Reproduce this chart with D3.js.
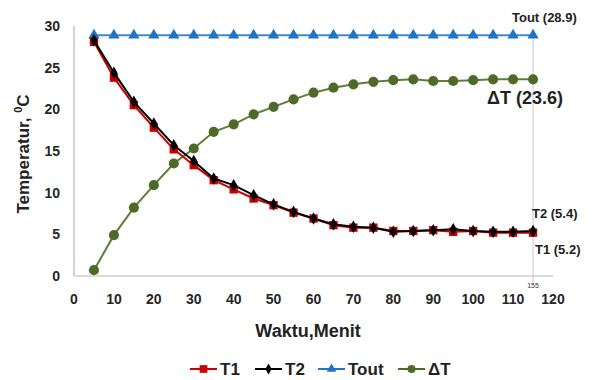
<!DOCTYPE html>
<html>
<head>
<meta charset="utf-8">
<script src="https://cdn.jsdelivr.net/npm/d3@7"></script>
<style>
  body { margin: 0; background: #fff; }
  svg text { font-family: Arial, "Liberation Sans", sans-serif; }
</style>
</head>
<body>
<svg id="chart"></svg>
<script>
// Data
const minutes = [5, 10, 15, 20, 25, 30, 35, 40, 45, 50, 55, 60, 65, 70, 75, 80, 85, 90, 95, 100, 105, 110, 115];
const t1 = [28.1, 23.8, 20.5, 17.8, 15.2, 13.3, 11.5, 10.4, 9.3, 8.5, 7.6, 6.9, 6.1, 5.8, 5.8, 5.4, 5.4, 5.5, 5.3, 5.4, 5.2, 5.2, 5.2];
const t2 = [28.3, 24.4, 20.9, 18.3, 15.7, 13.8, 11.7, 10.9, 9.7, 8.6, 7.7, 6.9, 6.2, 5.9, 5.8, 5.3, 5.4, 5.5, 5.6, 5.4, 5.3, 5.3, 5.4];
const tout = [28.9, 28.9, 28.9, 28.9, 28.9, 28.9, 28.9, 28.9, 28.9, 28.9, 28.9, 28.9, 28.9, 28.9, 28.9, 28.9, 28.9, 28.9, 28.9, 28.9, 28.9, 28.9, 28.9];
const deltaT = [0.7, 4.9, 8.2, 10.9, 13.5, 15.3, 17.3, 18.2, 19.4, 20.3, 21.2, 22.0, 22.6, 23.0, 23.3, 23.5, 23.6, 23.4, 23.4, 23.5, 23.6, 23.6, 23.6];
const xTicks = [0, 10, 20, 30, 40, 50, 60, 70, 80, 90, 100, 110, 120];
const yTicks = [0, 5, 10, 15, 20, 25, 30];

const width = 603;
const height = 380;

const svg = d3.select("#chart")
    .attr("width", width)
    .attr("height", height);

const x = d3.scaleLinear().domain([0, 120]).range([74, 553]);
const y = d3.scaleLinear().domain([0, 30]).range([276, 26]);

// Axes (plain lines, no tick marks)
svg.append("line")
    .attr("x1", x(0)).attr("x2", x(0))
    .attr("y1", y(30)).attr("y2", y(0))
    .attr("stroke", "#b8b8b8").attr("stroke-width", 1.2);
svg.append("line")
    .attr("x1", x(0)).attr("x2", x(120))
    .attr("y1", y(0)).attr("y2", y(0))
    .attr("stroke", "#b8b8b8").attr("stroke-width", 1.2);

// vertical marker line at the last reading
svg.append("line")
    .attr("x1", x(115)).attr("x2", x(115))
    .attr("y1", y(29.6)).attr("y2", y(0) + 8)
    .attr("stroke", "#c8c8c8").attr("stroke-width", 1);

svg.append("text")
    .attr("x", x(115)).attr("y", y(0) + 12)
    .attr("text-anchor", "middle")
    .attr("font-size", 7)
    .attr("fill", "#333")
    .text("155");

// Tick labels
svg.selectAll(".ytick")
    .data(yTicks)
    .enter()
    .append("text")
    .attr("class", "ytick")
    .attr("x", 60)
    .attr("y", d => y(d))
    .attr("dy", "0.35em")
    .attr("text-anchor", "end")
    .attr("font-size", 14)
    .attr("font-weight", "bold")
    .attr("fill", "#262626")
    .text(d => d);

svg.selectAll(".xtick")
    .data(xTicks)
    .enter()
    .append("text")
    .attr("class", "xtick")
    .attr("x", d => x(d))
    .attr("y", 304)
    .attr("text-anchor", "middle")
    .attr("font-size", 14)
    .attr("font-weight", "bold")
    .attr("fill", "#262626")
    .text(d => d);

// Axis titles
svg.append("text")
    .attr("x", 308).attr("y", 337)
    .attr("text-anchor", "middle")
    .attr("font-size", 18)
    .attr("font-weight", "bold")
    .attr("fill", "#222")
    .text("Waktu,Menit");

svg.append("text")
    .attr("transform", "translate(29,154) rotate(-90)")
    .attr("text-anchor", "middle")
    .attr("font-size", 17)
    .attr("font-weight", "bold")
    .attr("fill", "#222")
    .html('Temperatur, <tspan dy="-7" font-size="11">0</tspan><tspan dy="7">C</tspan>');

// Series
const series = [
    { name: "Tout", values: tout, color: "#1f74c6", line: "#3a8ad6", symbol: d3.symbolTriangle, size: 55 },
    { name: "ΔT", values: deltaT, color: "#4e6a29", line: "#5f7d38", symbol: d3.symbolCircle, size: 80 },
    { name: "T1", values: t1, color: "#cc0000", line: "#cc0000", symbol: d3.symbolSquare, size: 70 },
    { name: "T2", values: t2, color: "#000000", line: "#000000", symbol: d3.symbolDiamond, size: 45 }
];

const line = d3.line()
    .x(d => x(d[0]))
    .y(d => y(d[1]));

series.forEach(s => {
    const pts = minutes.map((m, i) => [m, s.values[i]]);
    const g = svg.append("g");
    g.append("path")
        .attr("d", line(pts))
        .attr("fill", "none")
        .attr("stroke", s.line)
        .attr("stroke-width", 2);
    g.selectAll("path.pt")
        .data(pts)
        .enter()
        .append("path")
        .attr("class", "pt")
        .attr("d", d3.symbol().type(s.symbol).size(s.size))
        .attr("transform", d => `translate(${x(d[0])},${y(d[1])})`)
        .attr("fill", s.color);
});

// End labels
const endLabels = [
    { text: "Tout (28.9)", x: 512, y: 22, size: 13 },
    { text: "ΔT (23.6)", x: 487, y: 104, size: 18 },
    { text: "T2 (5.4)", x: 532, y: 218, size: 13 },
    { text: "T1 (5.2)", x: 535, y: 254, size: 13 }
];
svg.selectAll(".endlab")
    .data(endLabels)
    .enter()
    .append("text")
    .attr("class", "endlab")
    .attr("x", d => d.x)
    .attr("y", d => d.y)
    .attr("font-size", d => d.size)
    .attr("font-weight", "bold")
    .attr("fill", "#222")
    .text(d => d.text);

// Legend
const legendItems = [
    { name: "T1", color: "#cc0000", symbol: d3.symbolSquare, size: 60, x: 190 },
    { name: "T2", color: "#000000", symbol: d3.symbolDiamond, size: 35, x: 255 },
    { name: "Tout", color: "#1f74c6", symbol: d3.symbolTriangle, size: 40, x: 318 },
    { name: "ΔT", color: "#4e6a29", symbol: d3.symbolCircle, size: 50, x: 398 }
];
const legend = svg.append("g");
legendItems.forEach(item => {
    const ly = 369;
    legend.append("line")
        .attr("x1", item.x).attr("x2", item.x + 27)
        .attr("y1", ly).attr("y2", ly)
        .attr("stroke", item.color).attr("stroke-width", 2);
    legend.append("path")
        .attr("d", d3.symbol().type(item.symbol).size(item.size))
        .attr("transform", `translate(${item.x + 13.5},${ly})`)
        .attr("fill", item.color);
    legend.append("text")
        .attr("x", item.x + 30).attr("y", ly + 6)
        .attr("font-size", 17)
        .attr("font-weight", "bold")
        .attr("fill", "#222")
        .text(item.name);
});
</script>
</body>
</html>
